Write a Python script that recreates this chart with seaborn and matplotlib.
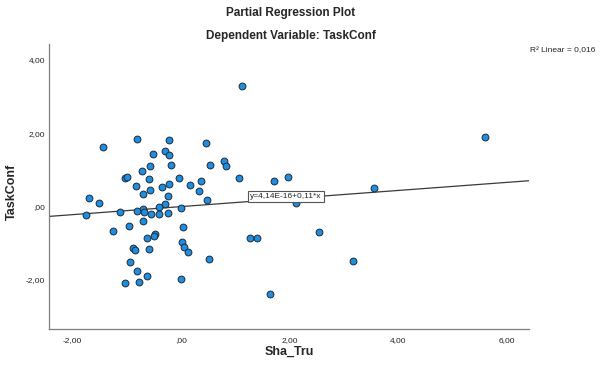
import matplotlib
matplotlib.use("Agg")
import matplotlib.pyplot as plt
import seaborn as sns
import numpy as np
import pandas as pd

# ---- data ----
sha_tru = [
    -1.446, -0.816, -0.232, 0.459, -0.517, -0.306, -0.217, -0.567, -0.195, 0.538,
    0.799, 0.832, -0.715, -1.041, -0.991, -0.600, -0.033, -0.831, -0.359, -0.217,
    0.164, 0.359, 0.330, -0.567, -0.705, -0.239, 0.483, -1.703, -1.519, -0.306,
    -0.401, -0.006, -0.711, -0.810, -0.678, -0.549, -0.401, -0.250, -1.120, -1.751,
    -0.705, -0.967, -1.263, 0.041, -0.479, -0.506, -0.632, 0.013, 0.053, 0.118,
    -0.893, -0.853, -0.589, 0.505, -0.945, -0.821, -0.622, -0.006, -1.042, -0.773,
    1.114, 1.059, 1.711, 1.974, 1.274, 1.398, 2.551, 1.637, 5.602, 3.552,
    3.177, 2.122,
]
task_conf = [
    1.629, 1.834, 1.806, 1.733, 1.432, 1.512, 1.397, 1.119, 1.124, 1.124,
    1.241, 1.116, 0.966, 0.789, 0.802, 0.742, 0.778, 0.573, 0.546, 0.614,
    0.592, 0.693, 0.428, 0.442, 0.341, 0.297, 0.188, 0.246, 0.095, 0.060,
    -0.014, -0.030, -0.068, -0.131, -0.145, -0.194, -0.205, -0.186, -0.136, -0.221,
    -0.382, -0.527, -0.658, -0.548, -0.753, -0.808, -0.854, -0.971, -1.094, -1.231,
    -1.127, -1.195, -1.168, -1.422, -1.503, -1.749, -1.885, -1.973, -2.095, -2.049,
    3.301, 0.778, 0.688, 0.802, -0.854, -0.862, -0.690, -2.374, 1.894, 0.502,
    -1.482, 0.100,
]
fit_intercept = 4.14e-16
fit_slope = 0.11
x_ticks = [-2, 0, 2, 4, 6]
x_tick_labels = ["-2,00", ",00", "2,00", "4,00", "6,00"]
y_ticks = [-2, 0, 2, 4]
y_tick_labels = ["-2,00", ",00", "2,00", "4,00"]
title_main = "Partial Regression Plot"
title_sub = "Dependent Variable: TaskConf"
x_label = "Sha_Tru"
y_label = "TaskConf"
fit_label = "y=4,14E-16+0,11*x"
r2_label = "R² Linear = 0,016"

sns.set_style("white")
plt.rcParams["font.family"] = ["Liberation Sans", "DejaVu Sans"]

W, H = 615, 367
fig = plt.figure(figsize=(W / 100, H / 100), dpi=100)
ax_h = 329 - 43.5
ax = fig.add_axes([49.3 / W, 1 - 329 / H, (528.8 - 49.3) / W, ax_h / H])

xlim = (-2.43, 6.41)
ylim = (-3.34, 4.45)

df = pd.DataFrame({"Sha_Tru": sha_tru, "TaskConf": task_conf})

# fit line across the full x range
line_x = np.array(xlim)
line_df = pd.DataFrame({"x": line_x, "y": fit_intercept + fit_slope * line_x})
sns.lineplot(data=line_df, x="x", y="y", ax=ax, color="#3a3a3a", linewidth=0.9, zorder=2)

sns.scatterplot(data=df, x="Sha_Tru", y="TaskConf", ax=ax, s=24,
                color="#1f8ee0", edgecolor="#1d2a36", linewidth=0.7, zorder=3)

ax.set_xlim(*xlim)
ax.set_ylim(*ylim)
ax.set_xticks(x_ticks)
ax.set_xticklabels(x_tick_labels)
ax.set_yticks(y_ticks)
ax.set_yticklabels(y_tick_labels)
ax.tick_params(axis="x", length=0, labelsize=6, colors="#222222", pad=6)
ax.tick_params(axis="y", length=0, labelsize=6, colors="#222222", pad=3)

for side in ["top", "right"]:
    ax.spines[side].set_visible(False)
for side in ["left", "bottom"]:
    ax.spines[side].set_color("#7f7f7f")
    ax.spines[side].set_linewidth(0.9)

ax.set_xlabel(x_label, fontsize=9, fontweight="bold")
ax.xaxis.set_label_coords(0.5, (329 - 352) / ax_h)
ax.xaxis.label.set_va("center")
ax.set_ylabel(y_label, fontsize=9, fontweight="bold")
ax.yaxis.set_label_coords((12 - 49.3) / (528.8 - 49.3), (329 - 192) / ax_h)
ax.yaxis.label.set_va("center")

ax.text(1.27, 0.27, fit_label, fontsize=6, ha="left", va="center", zorder=5,
        bbox=dict(boxstyle="square,pad=0.25", facecolor="white", edgecolor="#555555", linewidth=0.8))

fig.text(291 / W, 1 - 13 / H, title_main, ha="center", va="center", fontsize=8.5, fontweight="bold")
fig.text(291 / W, 1 - 36 / H, title_sub, ha="center", va="center", fontsize=8.5, fontweight="bold")
fig.text(530 / W, 1 - 51 / H, r2_label, ha="left", va="center", fontsize=6)

fig.savefig("out.png", dpi=100)
